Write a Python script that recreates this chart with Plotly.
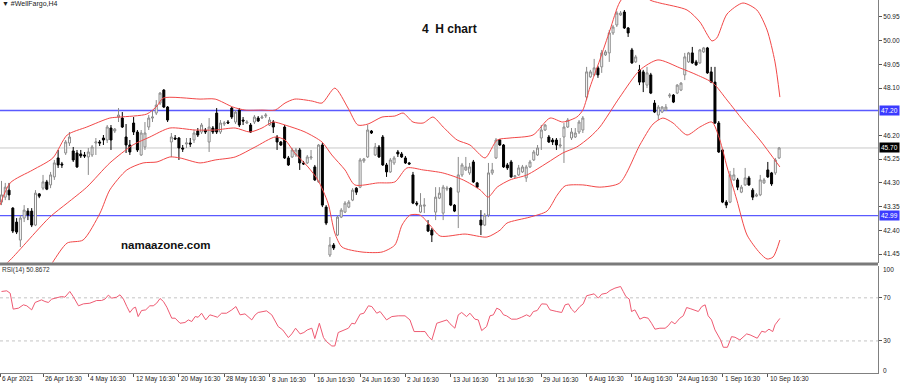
import plotly.graph_objects as go

# ---------------- data ----------------
bar_index = list(range(207))

opens = [43.53, 43.73, 44.01, 43.29, 42.73, 42.01, 42.89, 43.17, 43.17, 42.61,
         43.86, 44.09, 44.34, 44.22, 44.54, 45.30, 45.06, 45.50, 45.90, 45.58,
         45.50, 45.46, 45.42, 45.34, 45.42, 45.90, 45.94, 46.10, 46.02, 46.50,
         46.38, 46.94, 46.90, 46.14, 45.82, 46.70, 46.34, 45.42, 45.74, 46.54,
         46.90, 47.10, 47.50, 48.02, 47.34, 45.94, 46.10, 46.10, 45.70, 45.86,
         45.90, 46.02, 46.38, 46.34, 46.42, 45.94, 46.50, 47.10, 46.34, 46.66,
         46.74, 47.30, 46.74, 47.22, 46.82, 46.70, 46.62, 46.74, 46.90, 46.90,
         46.98, 46.62, 46.74, 46.14, 45.94, 46.54, 45.30, 45.34, 45.42, 45.62,
         45.10, 45.10, 45.30, 44.94, 44.34, 45.82, 43.33, 41.41, 41.81, 42.21,
         42.93, 43.13, 43.33, 43.61, 44.09, 44.13, 45.18, 45.34, 46.38, 45.42,
         45.74, 46.14, 45.02, 44.74, 45.10, 45.54, 45.46, 45.30, 45.10, 44.62,
         43.49, 43.13, 43.37, 42.61, 42.41, 43.13, 43.69, 43.09, 44.05, 44.09,
         43.41, 43.93, 44.62, 44.82, 44.70, 45.14, 44.30, 42.81, 42.61, 43.01,
         44.70, 45.30, 46.02, 45.82, 45.02, 45.14, 44.54, 44.62, 44.74, 44.50,
         44.94, 45.22, 45.42, 46.10, 46.42, 46.14, 46.02, 46.02, 45.78, 46.14,
         46.54, 46.10, 46.14, 46.34, 46.42, 47.74, 48.55, 48.63, 48.91, 48.95,
         49.43, 49.51, 50.31, 50.63, 51.03, 51.15, 50.51, 49.63, 49.15, 48.83,
         48.75, 48.22, 48.63, 47.50, 47.02, 47.14, 47.22, 47.78, 47.82, 47.90,
         48.02, 48.63, 49.15, 49.51, 49.15, 49.11, 49.55, 49.71, 48.75, 48.34,
         46.70, 45.62, 43.53, 43.53, 44.42, 44.42, 43.93, 44.22, 44.50, 44.01,
         43.77, 43.82, 44.30, 44.82, 44.70, 44.70, 45.30]

highs = [44.38, 44.30, 44.30, 43.33, 42.89, 43.01, 43.41, 43.29, 43.29, 44.01,
         43.89, 44.62, 44.42, 44.74, 45.22, 45.62, 45.14, 46.02, 46.34, 45.74,
         45.62, 45.62, 45.54, 45.70, 45.82, 46.10, 46.02, 46.22, 46.62, 46.62,
         46.50, 47.30, 47.14, 46.66, 46.02, 46.94, 46.42, 46.42, 46.74, 47.02,
         47.22, 47.62, 47.94, 48.06, 47.38, 46.30, 46.22, 46.14, 45.82, 46.10,
         46.10, 46.42, 46.50, 46.70, 46.50, 46.90, 46.58, 47.30, 46.82, 46.78,
         46.82, 47.34, 47.22, 47.30, 46.94, 46.82, 46.70, 47.02, 46.98, 47.02,
         47.10, 46.94, 46.82, 46.22, 45.98, 46.62, 45.38, 45.70, 45.70, 45.70,
         45.18, 45.42, 45.62, 45.02, 45.86, 45.90, 43.41, 42.13, 41.89, 43.01,
         43.29, 43.57, 43.61, 44.09, 44.13, 45.30, 45.30, 46.62, 46.42, 45.90,
         45.82, 46.22, 45.10, 45.30, 45.38, 45.62, 45.54, 45.38, 45.14, 44.74,
         43.57, 43.89, 43.69, 42.81, 42.49, 44.13, 44.13, 44.22, 44.18, 44.13,
         43.45, 45.34, 45.10, 45.34, 45.10, 45.22, 44.34, 43.21, 43.09, 45.10,
         45.10, 46.10, 46.06, 45.86, 45.10, 45.22, 44.62, 45.02, 45.02, 45.02,
         45.22, 45.62, 45.82, 46.62, 46.66, 46.22, 46.10, 46.10, 46.10, 46.70,
         46.90, 46.50, 46.50, 46.82, 46.98, 48.95, 48.83, 49.27, 48.99, 49.63,
         49.63, 50.43, 50.63, 51.19, 51.19, 51.23, 50.55, 49.71, 49.43, 49.03,
         48.83, 48.95, 48.71, 47.62, 47.42, 47.38, 47.46, 47.90, 47.86, 48.26,
         48.34, 49.51, 49.55, 49.75, 49.23, 49.67, 49.75, 49.75, 48.95, 48.95,
         46.78, 45.66, 43.61, 44.78, 44.90, 44.50, 44.22, 44.90, 44.58, 44.09,
         43.89, 44.62, 44.50, 45.14, 44.74, 45.30, 45.74]

lows = [43.41, 43.61, 43.61, 42.29, 42.25, 41.73, 42.73, 42.81, 42.53, 42.57,
        43.69, 44.01, 44.01, 44.09, 44.42, 44.90, 44.90, 45.42, 45.78, 45.14,
        44.90, 45.30, 45.30, 44.62, 45.34, 45.42, 45.78, 45.82, 45.90, 45.62,
        46.30, 46.74, 46.50, 45.50, 45.42, 46.22, 45.54, 45.38, 45.62, 46.42,
        46.74, 47.02, 47.42, 47.30, 46.74, 45.34, 46.02, 45.22, 45.54, 45.70,
        45.74, 45.90, 46.14, 46.26, 46.26, 45.54, 46.26, 46.26, 46.26, 46.58,
        46.66, 46.86, 46.66, 46.54, 46.62, 46.66, 46.30, 46.66, 46.74, 46.86,
        46.90, 46.58, 46.30, 45.62, 45.78, 45.26, 44.98, 45.30, 45.34, 44.82,
        45.02, 45.06, 45.22, 44.38, 44.30, 43.33, 42.61, 41.33, 41.61, 42.17,
        42.89, 43.09, 43.29, 43.57, 43.82, 44.09, 45.10, 45.30, 46.26, 45.38,
        45.30, 44.98, 44.54, 44.70, 45.02, 45.34, 45.30, 45.06, 45.02, 43.45,
        43.37, 43.09, 43.09, 42.33, 41.93, 42.81, 43.65, 42.81, 43.97, 43.37,
        43.13, 42.49, 44.54, 44.78, 44.62, 44.30, 44.09, 42.21, 42.57, 42.93,
        44.62, 45.26, 45.78, 44.90, 44.82, 44.50, 44.50, 44.58, 44.70, 44.34,
        44.90, 45.18, 45.38, 45.62, 46.38, 45.90, 45.82, 45.62, 45.70, 45.10,
        46.50, 46.02, 46.10, 46.26, 46.30, 47.62, 48.51, 48.59, 48.51, 48.71,
        49.39, 49.15, 50.23, 50.55, 50.99, 50.47, 50.15, 49.07, 49.11, 48.22,
        47.94, 48.10, 47.86, 47.10, 46.82, 47.10, 47.18, 47.70, 47.50, 47.86,
        47.98, 48.42, 49.11, 49.07, 48.99, 49.07, 49.51, 48.67, 48.30, 46.66,
        45.50, 43.49, 43.29, 43.49, 44.38, 44.01, 43.89, 44.18, 44.18, 43.61,
        43.73, 43.77, 44.26, 44.50, 44.18, 44.62, 45.26]

closes = [43.82, 44.13, 43.82, 42.37, 42.33, 42.89, 43.21, 43.01, 42.61, 43.89,
          43.77, 44.34, 44.05, 44.62, 45.10, 45.02, 45.02, 45.94, 46.14, 45.22,
          44.94, 45.38, 45.38, 45.54, 45.74, 45.94, 45.90, 46.02, 46.54, 46.02,
          46.46, 47.02, 46.54, 45.82, 45.54, 46.34, 45.62, 46.30, 46.30, 46.90,
          46.94, 47.42, 47.90, 47.34, 46.82, 46.14, 46.06, 45.70, 45.66, 45.90,
          45.86, 46.30, 46.22, 46.62, 46.34, 46.54, 46.34, 46.34, 46.70, 46.70,
          46.70, 46.94, 47.14, 46.62, 46.78, 46.74, 46.34, 46.94, 46.78, 46.94,
          47.02, 46.82, 46.54, 45.94, 45.82, 45.30, 45.02, 45.62, 45.62, 45.10,
          45.06, 45.34, 45.34, 44.42, 45.82, 43.41, 42.69, 41.81, 41.69, 42.93,
          43.21, 43.49, 43.53, 44.01, 43.93, 45.22, 45.26, 46.42, 46.30, 45.74,
          45.34, 45.02, 44.74, 45.22, 45.30, 45.46, 45.34, 45.10, 45.06, 43.49,
          43.45, 43.41, 43.41, 42.37, 42.21, 43.73, 43.89, 44.13, 44.09, 43.41,
          43.17, 44.62, 45.02, 44.94, 44.94, 44.34, 44.13, 42.61, 43.01, 44.70,
          44.82, 46.02, 45.82, 44.94, 44.90, 44.54, 44.58, 44.90, 44.94, 44.94,
          45.14, 45.54, 45.70, 46.42, 46.62, 45.94, 45.94, 45.82, 45.82, 46.54,
          46.82, 46.34, 46.30, 46.74, 46.90, 48.75, 48.75, 48.91, 48.63, 49.51,
          49.55, 50.31, 50.55, 51.11, 51.11, 50.51, 50.31, 49.11, 49.35, 48.34,
          48.34, 48.71, 47.90, 47.14, 47.34, 47.34, 47.34, 47.82, 47.54, 48.22,
          48.30, 49.35, 49.51, 49.11, 49.03, 49.63, 49.71, 48.71, 48.34, 46.70,
          45.54, 43.53, 43.41, 44.62, 44.62, 44.13, 44.13, 44.50, 44.22, 43.73,
          43.82, 44.42, 44.42, 44.54, 44.26, 45.22, 45.70]

# Bollinger Bands (20, 2) at sample bar positions
bb_upper_x = [-0.4, 2.3, 8.3, 13.6, 17.4, 22.6, 28.7, 31.4, 38.5, 41.2,
              42.8, 52.6, 56.6, 61.3, 64.5, 69.0, 72.5, 75.1, 77.7, 82.3,
              84.9, 88.3, 91.8, 94.4, 97.1, 100.8, 104.2, 106.4, 109.0, 111.7,
              114.3, 117.0, 120.7, 124.1, 128.1, 131.3, 134.7, 140.8, 145.3, 148.7,
              152.4, 154.0, 155.9, 158.5, 161.2, 163.8, 167.8, 171.8, 174.4, 181.6,
              185.0, 188.2, 189.5, 192.2, 196.4, 200.1, 202.8, 204.9, 206.2]
bb_upper = [43.41, 44.30, 44.82, 45.30, 46.22, 46.54, 46.90, 46.94, 47.06, 47.38,
            47.70, 47.66, 47.66, 47.34, 47.22, 47.22, 47.22, 47.50, 47.66, 47.58,
            47.50, 48.10, 47.30, 46.62, 46.66, 46.94, 46.98, 47.10, 46.74, 46.70,
            46.94, 46.54, 46.02, 45.82, 45.30, 46.02, 46.10, 46.22, 46.90, 46.74,
            46.94, 47.22, 48.14, 49.23, 50.43, 51.55, 52.20, 51.63, 51.51, 51.23,
            50.75, 49.99, 50.11, 51.07, 51.51, 51.23, 50.43, 49.15, 47.74]

bb_mid_x = [-0.4, 2.3, 12.8, 17.4, 22.6, 28.7, 34.8, 39.3, 44.6, 51.3,
            56.6, 61.9, 65.8, 69.0, 71.9, 75.1, 80.4, 84.9, 87.5, 91.0,
            93.6, 99.7, 104.2, 107.4, 111.7, 116.9, 122.3, 126.8, 128.9, 131.3,
            134.7, 139.2, 144.5, 148.7, 152.4, 155.9, 158.5, 163.8, 169.1, 173.9,
            179.7, 184.2, 188.5, 192.2, 196.4, 200.9, 206.2]
bb_mid = [40.85, 41.21, 42.93, 43.49, 44.13, 45.10, 45.82, 46.14, 46.50, 46.42,
          46.42, 46.50, 46.34, 46.50, 46.74, 46.62, 46.34, 45.94, 45.42, 44.82,
          44.22, 44.30, 44.34, 44.90, 44.82, 44.70, 44.42, 44.02, 43.73, 44.13,
          44.42, 44.62, 45.10, 45.50, 45.74, 46.14, 46.54, 47.74, 48.82, 49.23,
          48.91, 48.63, 48.30, 47.62, 46.82, 46.02, 44.94]

bb_lower_x = [11.5, 13.6, 17.4, 21.6, 26.1, 28.7, 33.2, 37.5, 41.2, 44.6,
              47.3, 52.6, 56.6, 61.9, 67.2, 72.5, 75.1, 77.7, 81.2, 83.8,
              86.5, 88.3, 90.2, 95.5, 100.8, 104.2, 106.1, 108.2, 110.9, 113.5,
              116.2, 122.8, 128.6, 132.1, 133.9, 140.0, 144.5, 147.2, 149.3, 154.0,
              158.5, 163.8, 169.1, 172.6, 175.2, 177.9, 181.6, 185.0, 188.2, 190.3,
              192.2, 194.8, 197.5, 200.9, 202.8, 204.4, 206.2]
bb_lower = [40.61, 41.13, 41.89, 42.01, 43.09, 44.02, 44.82, 45.10, 45.14, 45.34,
            45.30, 45.10, 45.22, 45.34, 45.74, 46.14, 46.02, 45.50, 44.94, 44.42,
            43.49, 42.29, 41.73, 41.53, 41.53, 41.81, 42.61, 43.01, 43.01, 42.61,
            42.17, 42.25, 42.13, 42.41, 42.69, 42.93, 43.17, 43.81, 44.18, 44.22,
            44.13, 44.30, 45.82, 46.66, 46.90, 46.70, 46.22, 46.54, 46.74, 46.02,
            44.94, 43.61, 42.21, 41.49, 41.25, 41.33, 42.01]

# RSI(14)
rsi_x = [0, 1.4, 2.3, 3.1, 4.5, 5.8, 6.7, 8.0, 8.9, 9.8,
         10.6, 11.5, 12.4, 13.3, 14.6, 15.9, 16.8, 18.1, 19.0, 20.4,
         21.7, 23.4, 25.2, 26.5, 27.4, 28.3, 29.2, 30.5, 31.4, 32.3,
         33.2, 34.0, 34.9, 35.5, 36.2, 37.1, 38.2, 39.3, 40.2, 41.1,
         42.0, 42.9, 43.8, 45.1, 46.0, 47.3, 48.6, 49.5, 50.4, 51.3,
         52.1, 53.0, 54.1, 55.2, 56.1, 57.2, 58.3, 59.6, 61.0, 62.1,
         63.2, 64.5, 66.3, 67.2, 68.0, 70.2, 71.6, 73.3, 74.5, 76.0,
         76.9, 77.9, 79.1, 80.1, 81.0, 82.2, 83.0, 84.2, 85.3, 86.1,
         87.5, 88.3, 89.2, 90.6, 91.9, 92.8, 93.6, 95.0, 96.0, 97.2,
         98.1, 99.4, 100.3, 102.0, 103.4, 105.1, 106.9, 108.2, 109.3, 110.9,
         112.2, 113.1, 114.0, 115.3, 116.6, 118.0, 118.8, 120.1, 121.0, 121.9,
         123.2, 124.1, 125.4, 126.3, 127.2, 128.5, 129.4, 130.3, 131.2, 132.1,
         133.0, 133.8, 135.1, 136.5, 137.8, 139.1, 140.0, 140.9, 141.9, 143.1,
         144.4, 145.3, 147.1, 148.4, 149.3, 150.2, 151.0, 151.9, 153.2, 154.1,
         155.0, 155.9, 157.0, 158.1, 159.0, 160.3, 161.2, 162.5, 164.0, 164.7,
         165.4, 166.3, 166.9, 167.8, 169.1, 170.2, 171.3, 172.2, 173.1, 174.4,
         175.8, 176.6, 177.5, 178.4, 179.7, 180.6, 181.5, 182.6, 183.7, 184.6,
         185.5, 186.4, 187.2, 188.1, 189.0, 189.9, 190.5, 191.2, 192.3, 193.4,
         194.3, 195.6, 196.5, 197.4, 198.3, 199.6, 200.2, 201.4, 202.3, 203.3,
         204.3, 204.9, 205.8, 206.2]
rsi_values = [75.9, 76.5, 74.3, 59.5, 60.4, 63.5, 62.6, 58.8, 65.7, 66.6,
              68.1, 66.6, 65.7, 68.8, 69.7, 71.2, 70.6, 75.9, 71.2, 62.6,
              64.4, 65.0, 67.5, 67.5, 68.8, 72.5, 69.7, 70.6, 72.8, 68.8,
              61.9, 56.4, 60.4, 61.3, 52.6, 58.2, 58.8, 62.6, 62.6, 65.0,
              69.4, 66.6, 61.3, 51.1, 51.1, 46.4, 47.1, 49.5, 48.0, 52.6,
              52.0, 55.7, 49.5, 54.2, 53.3, 52.0, 55.7, 55.7, 58.8, 61.9,
              54.2, 55.1, 49.5, 54.2, 56.4, 57.9, 54.2, 43.3, 40.2, 33.1,
              36.5, 41.8, 36.5, 37.8, 40.2, 41.8, 32.2, 46.4, 33.1, 29.4,
              25.3, 25.3, 37.8, 40.2, 41.8, 46.4, 45.8, 54.8, 55.7, 62.6,
              61.9, 55.7, 57.3, 49.5, 52.6, 53.3, 53.3, 49.5, 38.7, 38.7,
              38.7, 34.0, 30.9, 46.4, 48.0, 49.5, 46.0, 41.8, 54.2, 56.4,
              52.6, 55.7, 50.2, 49.5, 39.6, 43.3, 53.3, 54.2, 60.4, 58.8,
              54.2, 53.3, 50.2, 50.2, 52.0, 54.2, 52.6, 57.3, 58.2, 64.4,
              64.1, 58.8, 57.3, 56.4, 63.5, 64.4, 59.5, 56.4, 61.9, 64.4,
              71.9, 72.8, 73.7, 69.7, 73.4, 74.3, 76.8, 79.0, 80.5, 75.9,
              71.2, 68.8, 57.3, 58.8, 50.2, 52.0, 51.1, 46.4, 40.9, 41.8,
              41.8, 44.0, 48.0, 45.8, 51.1, 53.3, 61.0, 59.8, 58.2, 57.3,
              61.9, 63.5, 53.3, 49.5, 40.2, 34.7, 30.9, 24.1, 24.1, 34.0,
              33.4, 30.9, 33.4, 36.5, 35.6, 33.1, 32.5, 39.0, 38.1, 40.9,
              38.7, 44.9, 49.5, 50.9]

price_ticks = [41.45, 42.40, 43.35, 44.30, 45.25, 46.20, 48.10, 49.05, 50.00, 50.95]
date_tick_pos = [-0.3, 11, 23, 35, 47, 59, 71, 83, 95, 107, 119, 131, 143, 155, 167, 179, 191, 203]
date_tick_labels = ["6 Apr 2021", "26 Apr 16:30", "4 May 16:30", "12 May 16:30", "20 May 16:30",
                    "28 May 16:30", "8 Jun 16:30", "16 Jun 16:30", "24 Jun 16:30", "2 Jul 16:30",
                    "13 Jul 16:30", "21 Jul 16:30", "29 Jul 16:30", "6 Aug 16:30", "16 Aug 16:30",
                    "24 Aug 16:30", "1 Sep 16:30", "10 Sep 16:30"]
level_high = 47.20
level_low = 42.99
last_price = 45.70
rsi_levels = [30, 70]

# ---------------- figure ----------------
W, H = 900, 384
FONT = "Liberation Sans, Arial, sans-serif"
RIGHT = 878 / W


def py(px):
    return 1 - px / H


fig = go.Figure()

fig.add_trace(go.Candlestick(
    x=bar_index, open=opens, high=highs, low=lows, close=closes,
    increasing=dict(line=dict(color="#8a8a8a", width=1), fillcolor="white"),
    decreasing=dict(line=dict(color="black", width=1), fillcolor="black"),
    whiskerwidth=0, xaxis="x", yaxis="y", hoverinfo="skip"))

band_color = "#f24848"
for bx, by in ((bb_upper_x, bb_upper), (bb_mid_x, bb_mid), (bb_lower_x, bb_lower)):
    fig.add_trace(go.Scatter(x=bx, y=by, mode="lines", xaxis="x", yaxis="y",
                             line=dict(color=band_color, width=1, shape="spline", smoothing=0.7),
                             hoverinfo="skip"))

fig.add_trace(go.Scatter(x=rsi_x, y=rsi_values, mode="lines", xaxis="x", yaxis="y2",
                         line=dict(color="#ee5a72", width=1), hoverinfo="skip"))

shapes = [
    dict(type="line", xref="x domain", yref="y", x0=0, x1=1, y0=last_price, y1=last_price,
         line=dict(color="#c8c8c8", width=1), layer="below"),
    dict(type="line", xref="x domain", yref="y", x0=0, x1=1, y0=level_high, y1=level_high,
         line=dict(color="#5a5aff", width=1.4), layer="below"),
    dict(type="line", xref="x domain", yref="y", x0=0, x1=1, y0=level_low, y1=level_low,
         line=dict(color="#5a5aff", width=1.4), layer="below"),
    dict(type="rect", xref="paper", yref="paper", x0=0, x1=RIGHT, y0=py(265.5), y1=py(262.5),
         fillcolor="#7a7a7a", line=dict(width=0)),
]
for lv in rsi_levels:
    shapes.append(dict(type="line", xref="x domain", yref="y2", x0=0, x1=1, y0=lv, y1=lv,
                       line=dict(color="#c4c4c4", width=1, dash="dot"), layer="below"))

annotations = [
    dict(text="<b>4\u00a0\u00a0H chart</b>", x=449 / W, y=py(29.5), xref="paper", yref="paper",
         showarrow=False, font=dict(family=FONT, size=12, color="#111111"),
         xanchor="center", yanchor="middle"),
    dict(text="<b>namaazone.com</b>", x=165 / W, y=py(245), xref="paper", yref="paper",
         showarrow=False, font=dict(family=FONT, size=11.5, color="#111111"),
         xanchor="center", yanchor="middle"),
    dict(text="\u25bc #WellFargo,H4", x=0, y=py(3.5), xref="paper", yref="paper",
         showarrow=False, font=dict(family=FONT, size=7, color="#222222"),
         xanchor="left", yanchor="middle"),
    dict(text="RSI(14) 50.8672", x=0, y=py(269.5), xref="paper", yref="paper",
         showarrow=False, font=dict(family=FONT, size=6.5, color="#333333"),
         xanchor="left", yanchor="middle"),
    dict(text="100", x=881 / W, y=py(269), xref="paper", yref="paper",
         showarrow=False, font=dict(family=FONT, size=6.5, color="#222222"),
         xanchor="left", yanchor="middle"),
    dict(text="0", x=881 / W, y=py(370), xref="paper", yref="paper",
         showarrow=False, font=dict(family=FONT, size=6.5, color="#222222"),
         xanchor="left", yanchor="middle"),
]
# date labels, left-aligned at their tick marks as in the terminal
for pos, lab in zip(date_tick_pos, date_tick_labels):
    annotations.append(dict(text=lab, x=pos, y=py(379), xref="x", yref="paper",
                            showarrow=False, font=dict(family=FONT, size=6.5, color="#222222"),
                            xanchor="left", yanchor="middle", xshift=0))
for val, bg in ((level_high, "#3b3bff"), (last_price, "#000000"), (level_low, "#3b3bff")):
    annotations.append(dict(text=f"{val:.2f}", x=878.5 / W, y=val, xref="paper", yref="y",
                            showarrow=False, font=dict(family=FONT, size=6.5, color="white"),
                            bgcolor=bg, borderpad=1, xanchor="left", yanchor="middle"))

fig.update_layout(
    width=W, height=H, margin=dict(l=0, r=0, t=0, b=0),
    paper_bgcolor="white", plot_bgcolor="white", showlegend=False,
    boxgap=0.25, boxgroupgap=0.3,
    shapes=shapes, annotations=annotations,
    xaxis=dict(domain=[0, RIGHT], range=[-0.397, 232.19], anchor="y2",
               tickmode="array", tickvals=date_tick_pos, showticklabels=False,
               ticks="outside", ticklen=3, tickcolor="#555555",
               showgrid=False, zeroline=False, showline=True, linecolor="#808080",
               rangeslider=dict(visible=False), automargin=False, fixedrange=True),
    yaxis=dict(domain=[py(262.5), 1], range=[41.11, 51.631], side="right", anchor="x",
               tickmode="array", tickvals=price_ticks,
               ticktext=[f"{v:.2f}" for v in price_ticks],
               ticks="outside", ticklen=3, tickcolor="#555555",
               tickfont=dict(family=FONT, size=6.5, color="#222222"),
               showgrid=False, zeroline=False, showline=True, linecolor="#808080",
               automargin=False, fixedrange=True),
    yaxis2=dict(domain=[py(373.25), py(265.5)], range=[0, 100], side="right", anchor="x",
                tickmode="array", tickvals=rsi_levels, ticktext=[str(v) for v in rsi_levels],
                ticks="outside", ticklen=3, tickcolor="#555555",
                tickfont=dict(family=FONT, size=6.5, color="#222222"),
                showgrid=False, zeroline=False, showline=True, linecolor="#808080",
                automargin=False, fixedrange=True),
)

fig.write_html("out.html", config={"displayModeBar": False},
               post_script="document.body.style.margin='0px';document.body.style.overflow='hidden';")
